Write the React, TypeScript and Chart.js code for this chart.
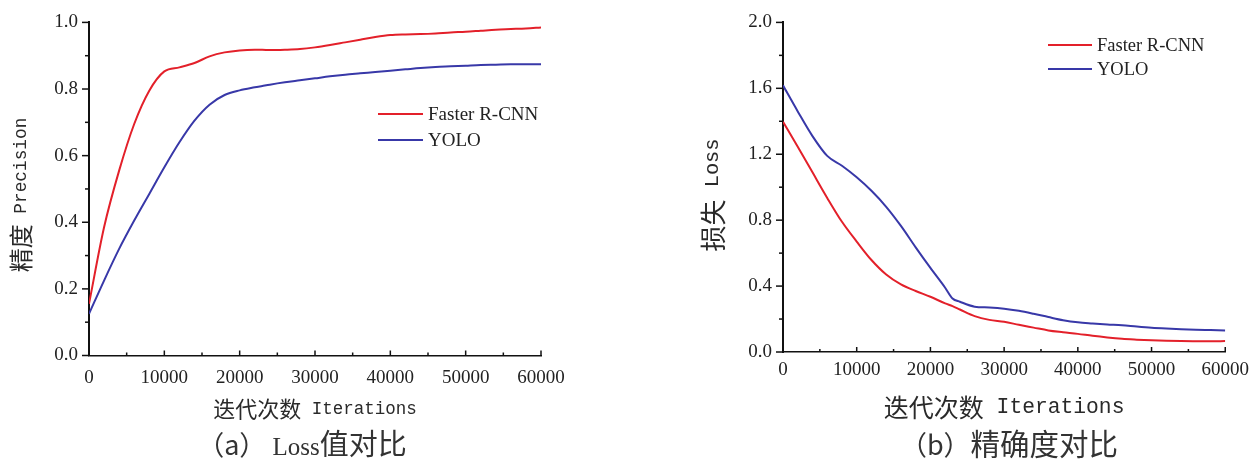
import React, { useEffect, useRef } from "react";
import { Chart, registerables } from "chart.js";

Chart.register(...registerables);

// ---------------- data ----------------
const iterations = [
  0, 2000, 4000, 6000, 8000, 10000, 12000, 14000, 16000, 18000, 20000,
  22000, 23000, 24000, 26000, 28000, 30000, 32000, 34000, 36000, 38000, 40000,
  42000, 44000, 46000, 48000, 50000, 52000, 54000, 56000, 58000, 60000,
];
const seriesNames = ["Faster R-CNN", "YOLO"];

const precisionFasterRCNN = [
  0.155, 0.385, 0.555, 0.695, 0.795, 0.853, 0.865, 0.878, 0.898, 0.91, 0.916,
  0.918, 0.918, 0.917, 0.918, 0.92, 0.925, 0.932, 0.94, 0.948, 0.956, 0.962,
  0.964, 0.965, 0.967, 0.97, 0.972, 0.975, 0.978, 0.98, 0.982, 0.985,
];
const precisionYOLO = [
  0.125, 0.225, 0.32, 0.405, 0.485, 0.565, 0.64, 0.705, 0.753, 0.782, 0.796,
  0.805, 0.809, 0.813, 0.82, 0.826, 0.832, 0.838, 0.843, 0.847, 0.851, 0.855,
  0.859, 0.863, 0.866, 0.868, 0.87, 0.872, 0.873, 0.874, 0.874, 0.874,
];
const lossFasterRCNN = [
  1.397, 1.245, 1.09, 0.935, 0.79, 0.67, 0.558, 0.47, 0.41, 0.37, 0.335,
  0.295, 0.278, 0.258, 0.218, 0.195, 0.183, 0.165, 0.148, 0.131, 0.12, 0.11,
  0.098, 0.088, 0.08, 0.075, 0.071, 0.068, 0.066, 0.065, 0.065, 0.066,
];
const lossYOLO = [
  1.618, 1.46, 1.31, 1.19, 1.13, 1.06, 0.978, 0.881, 0.765, 0.635, 0.51,
  0.39, 0.325, 0.305, 0.275, 0.27, 0.263, 0.25, 0.232, 0.212, 0.193, 0.18,
  0.173, 0.167, 0.162, 0.154, 0.147, 0.142, 0.138, 0.135, 0.133, 0.131,
];

const xTickStep = 10000;
const precisionTickStep = 0.2;
const lossTickStep = 0.4;

// ---------------- styles ----------------
const RED = "#e3202a";
const BLUE = "#3838a8";
const SERIF = "'Liberation Serif', 'Times New Roman', serif";
const MONO = "'Liberation Mono', monospace";
const CJK = "'Noto Sans CJK SC', sans-serif";

Chart.defaults.font.family = SERIF;
Chart.defaults.color = "#222";

// tick marks: y outward (left), x inward (up), with minor ticks
const axisTicksPlugin = {
  id: "axisTicks",
  afterDraw(chart: any, _args: any, opts: any) {
    const { ctx, chartArea } = chart;
    const xs = chart.scales.x;
    const ys = chart.scales.y;
    ctx.save();
    ctx.strokeStyle = "#111";
    ctx.lineWidth = 1.5;
    const line = (x1: number, y1: number, x2: number, y2: number) => {
      ctx.beginPath();
      ctx.moveTo(x1, y1);
      ctx.lineTo(x2, y2);
      ctx.stroke();
    };
    const yv = ys.ticks.map((t: any) => t.value);
    yv.forEach((v: number, i: number) => {
      const p = ys.getPixelForValue(v);
      line(chartArea.left - opts.yMajor, p, chartArea.left, p);
      if (i < yv.length - 1) {
        const pm = ys.getPixelForValue((v + yv[i + 1]) / 2);
        line(chartArea.left - opts.yMinor, pm, chartArea.left, pm);
      }
    });
    const xv = xs.ticks.map((t: any) => t.value);
    xv.forEach((v: number, i: number) => {
      const p = xs.getPixelForValue(v);
      line(p, chartArea.bottom, p, chartArea.bottom - opts.xMajor);
      if (i < xv.length - 1) {
        const pm = xs.getPixelForValue((v + xv[i + 1]) / 2);
        line(pm, chartArea.bottom, pm, chartArea.bottom - opts.xMinor);
      }
    });
    ctx.restore();
  },
};

// axis titles with a CJK part and a monospace Latin part
type TitlePart = { text: string; font: string };
function drawParts(ctx: any, parts: TitlePart[], cx: number, cy: number, rotation: number) {
  ctx.save();
  ctx.translate(cx, cy);
  ctx.rotate(rotation);
  ctx.textBaseline = "middle";
  ctx.textAlign = "left";
  ctx.fillStyle = "#2a2a2a";
  let total = 0;
  const widths = parts.map((p) => {
    ctx.font = p.font;
    const w = ctx.measureText(p.text).width;
    total += w;
    return w;
  });
  let x = -total / 2;
  parts.forEach((p, i) => {
    ctx.font = p.font;
    ctx.fillText(p.text, x, 0);
    x += widths[i];
  });
  ctx.restore();
}

const axisTitlesPlugin = {
  id: "axisTitles",
  afterDraw(chart: any, _args: any, opts: any) {
    const { ctx, chartArea } = chart;
    const cx = (chartArea.left + chartArea.right) / 2;
    drawParts(ctx, opts.x.parts, cx, opts.x.y, 0);
    drawParts(ctx, opts.y.parts, opts.y.x, opts.y.cy, -Math.PI / 2);
  },
};

const inlineLegendPlugin = {
  id: "inlineLegend",
  afterDatasetsDraw(chart: any, _args: any, opts: any) {
    const { ctx } = chart;
    ctx.save();
    chart.data.datasets.forEach((ds: any, i: number) => {
      const y = opts.y + i * opts.rowHeight;
      ctx.strokeStyle = ds.borderColor;
      ctx.lineWidth = 2;
      ctx.beginPath();
      ctx.moveTo(opts.x, y);
      ctx.lineTo(opts.x + opts.lineLength, y);
      ctx.stroke();
      ctx.fillStyle = "#222";
      ctx.font = `${opts.fontSize}px ${SERIF}`;
      ctx.textBaseline = "middle";
      ctx.textAlign = "left";
      ctx.fillText(ds.label, opts.x + opts.lineLength + opts.gap, y + 1);
    });
    ctx.restore();
  },
};

type Panel = {
  a: number[];
  b: number[];
  yMax: number;
  yStep: number;
  titles: any;
  yAxisWidth: number;
  xAxisHeight: number;
  padTop: number;
  padRight: number;
  xLabelPad: number;
  legend: any;
};

function makeConfig(p: Panel): any {
  return {
    type: "line",
    data: {
      datasets: [
        {
          label: seriesNames[0],
          data: iterations.map((x, i) => ({ x, y: p.a[i] })),
          borderColor: RED,
          backgroundColor: RED,
          borderWidth: 2,
          pointRadius: 0,
          cubicInterpolationMode: "monotone",
        },
        {
          label: seriesNames[1],
          data: iterations.map((x, i) => ({ x, y: p.b[i] })),
          borderColor: BLUE,
          backgroundColor: BLUE,
          borderWidth: 2,
          pointRadius: 0,
          cubicInterpolationMode: "monotone",
        },
      ],
    },
    options: {
      responsive: false,
      animation: false,
      events: [],
      layout: { padding: { left: 0, right: p.padRight, top: p.padTop, bottom: 0 } },
      scales: {
        x: {
          type: "linear",
          min: 0,
          max: 60000,
          ticks: {
            stepSize: xTickStep,
            padding: p.xLabelPad,
            maxRotation: 0,
            font: { size: 19 },
            color: "#222",
            callback: (v: any) => String(v),
          },
          grid: { display: false, drawTicks: false },
          border: { display: true, color: "#111", width: 1.5 },
          title: { display: false },
          afterFit: (s: any) => {
            s.height = p.xAxisHeight;
          },
        },
        y: {
          type: "linear",
          min: 0,
          max: p.yMax,
          ticks: {
            stepSize: p.yStep,
            padding: 11,
            font: { size: 19 },
            color: "#222",
            callback: (v: any) => Number(v).toFixed(1),
          },
          grid: { display: false, drawTicks: false },
          border: { display: true, color: "#111", width: 2 },
          title: { display: false },
          afterFit: (s: any) => {
            s.width = p.yAxisWidth;
          },
        },
      },
      plugins: {
        legend: { display: false },
        tooltip: { enabled: false },
        axisTicks: { yMajor: 7, yMinor: 4, xMajor: 5, xMinor: 3 },
        axisTitles: p.titles,
        inlineLegend: p.legend,
      },
    },
    plugins: [axisTicksPlugin, axisTitlesPlugin, inlineLegendPlugin],
  };
}

function ChartCanvas({ panel, width, height, left }: { panel: Panel; width: number; height: number; left: number }) {
  const ref = useRef<HTMLCanvasElement | null>(null);
  useEffect(() => {
    if (!ref.current) return;
    const chart = new Chart(ref.current, makeConfig(panel));
    return () => chart.destroy();
  }, []);
  return (
    <canvas
      ref={ref}
      width={width}
      height={height}
      style={{ position: "absolute", left, top: 0, width, height, display: "block" }}
    />
  );
}

const xTitleCJK = "迭代次数";
const xTitleLatin = " Iterations";

const leftPanel: Panel = {
  a: precisionFasterRCNN,
  b: precisionYOLO,
  yMax: 1,
  yStep: precisionTickStep,
  titles: {
    x: { y: 409, parts: [{ text: xTitleCJK, font: `22px ${CJK}` }, { text: xTitleLatin, font: `17.5px ${MONO}` }] },
    y: { x: 21, cy: 195, parts: [{ text: "精度", font: `24px ${CJK}` }, { text: " Precision", font: `17.8px ${MONO}` }] },
  },
  yAxisWidth: 89,
  xAxisHeight: 74.5,
  padTop: 22,
  padRight: 99,
  xLabelPad: 11,
  legend: { x: 378, y: 114, rowHeight: 26, lineLength: 45, gap: 5, fontSize: 19 },
};

const rightPanel: Panel = {
  a: lossFasterRCNN,
  b: lossYOLO,
  yMax: 2,
  yStep: lossTickStep,
  titles: {
    x: { y: 407, parts: [{ text: xTitleCJK, font: `25px ${CJK}` }, { text: xTitleLatin, font: `21.3px ${MONO}` }] },
    y: { x: 73, cy: 195, parts: [{ text: "损失", font: `26px ${CJK}` }, { text: " Loss", font: `20.4px ${MONO}` }] },
  },
  yAxisWidth: 143,
  xAxisHeight: 78,
  padTop: 20,
  padRight: 24,
  xLabelPad: 7,
  legend: { x: 408, y: 45, rowHeight: 24, lineLength: 44, gap: 5, fontSize: 18.5 },
};

function Caption({ center, letter, rest }: { center: number; letter: string; rest: React.ReactNode }) {
  return (
    <div
      style={{
        position: "absolute",
        left: center - 200,
        top: 424,
        width: 400,
        height: 36,
        lineHeight: "36px",
        textAlign: "center",
        color: "#333",
        whiteSpace: "nowrap",
      }}
    >
      <span style={{ fontFamily: CJK, fontSize: 27 }}>（{letter}）</span>
      {rest}
    </div>
  );
}

export default function App() {
  return (
    <div style={{ position: "absolute", left: 0, top: 0, width: 1256, height: 459, background: "#fff", overflow: "hidden" }}>
      <ChartCanvas panel={leftPanel} width={640} height={430} left={0} />
      <ChartCanvas panel={rightPanel} width={616} height={430} left={640} />
      <Caption
        center={302}
        letter="a"
        rest={
          <>
            <span style={{ fontFamily: SERIF, fontSize: 25 }}> Loss</span>
            <span style={{ fontFamily: CJK, fontSize: 29 }}>值对比</span>
          </>
        }
      />
      <Caption
        center={1009}
        letter="b"
        rest={<span style={{ fontFamily: CJK, fontSize: 29.5 }}>精确度对比</span>}
      />
    </div>
  );
}
